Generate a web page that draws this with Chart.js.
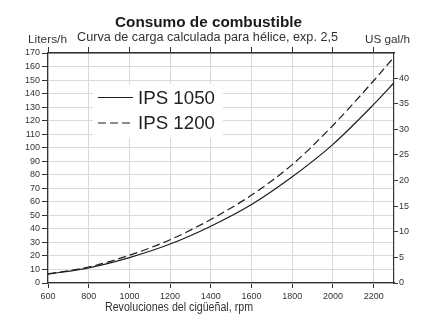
<!DOCTYPE html>
<html>
<head>
<meta charset="utf-8">
<script src="https://cdn.jsdelivr.net/npm/chart.js@4"></script>
<style>
html,body{margin:0;padding:0;background:#fff;}
#wrap{width:425px;height:316px;}
</style>
</head>
<body>
<div id="wrap"><canvas id="c" width="425" height="316"></canvas></div>
<script>
// ---- data ----
const rpm = [600, 800, 1000, 1200, 1400, 1600, 1800, 2000, 2200, 2300];
const ips1050 = [6.5, 11.2, 18.8, 28.8, 42, 58, 78.5, 102.5, 132, 148];
const ips1200 = [6.7, 11.8, 20.5, 32, 47, 65, 87.5, 116.5, 149.5, 167];
const xTicks = [600, 800, 1000, 1200, 1400, 1600, 1800, 2000, 2200];
const literTicks = [0,10,20,30,40,50,60,70,80,90,100,110,120,130,140,150,160,170];
const galTicks = [0, 5, 10, 15, 20, 25, 30, 35, 40];
const seriesNames = ['IPS 1050', 'IPS 1200'];
const titleText = 'Consumo de combustible';
const subtitleText = 'Curva de carga calculada para hélice, exp. 2,5';
const leftUnit = 'Liters/h';
const rightUnit = 'US gal/h';
const xTitle = 'Revoluciones del cigüeñal, rpm';
const LITERS_PER_GAL = 3.785;

const FONT = '"Liberation Sans", Arial, Helvetica, sans-serif';
const GRID = '#d9d9d9';
const AXIS = '#333';

function toPts(xs, ys){ return xs.map((x,i)=>({x:x, y:ys[i]})); }

function fitText(ctx, text, left, baseline, font, width){
  ctx.save();
  ctx.font = font;
  ctx.textAlign = 'left';
  ctx.textBaseline = 'alphabetic';
  const w = ctx.measureText(text).width;
  ctx.translate(left, baseline);
  ctx.scale(width / w, 1);
  ctx.fillText(text, 0, 0);
  ctx.restore();
}

const decor = {
  id: 'decor',
  beforeDatasetsDraw(chart){
    const ctx = chart.ctx;
    ctx.save();
    ctx.fillStyle = '#fff';
    ctx.fillRect(93, 84, 130, 54);
    const ds = chart.data.datasets;
    const rows = [97.5, 123];
    rows.forEach((y, i) => {
      ctx.strokeStyle = ds[i].borderColor;
      ctx.lineWidth = 1.2;
      ctx.setLineDash(ds[i].borderDash || []);
      ctx.beginPath();
      ctx.moveTo(98, y);
      ctx.lineTo(133, y);
      ctx.stroke();
      ctx.setLineDash([]);
      ctx.fillStyle = '#222';
      fitText(ctx, seriesNames[i], 138, y + 6, '18.5px ' + FONT, 77);
    });
    ctx.restore();
  },
  afterDraw(chart){
    const ctx = chart.ctx;
    ctx.save();
    ctx.fillStyle = '#1a1a1a';
    fitText(ctx, titleText, 115, 27, 'bold 15.5px ' + FONT, 187);
    ctx.fillStyle = '#333';
    fitText(ctx, subtitleText, 77, 41, '12.5px ' + FONT, 261);
    fitText(ctx, leftUnit, 28, 42.5, '10.5px ' + FONT, 39);
    fitText(ctx, rightUnit, 365, 42.5, '10.5px ' + FONT, 45);
    fitText(ctx, xTitle, 105, 311, '12px ' + FONT, 148);
    ctx.restore();
  }
};

const plainLabel = v => String(v);

new Chart(document.getElementById('c'), {
  type: 'line',
  data: {
    datasets: [
      {
        label: seriesNames[0],
        data: toPts(rpm, ips1050),
        borderColor: '#1e1e1e',
        borderWidth: 1.2,
        pointRadius: 0,
        fill: false,
        cubicInterpolationMode: 'monotone',
        yAxisID: 'y'
      },
      {
        label: seriesNames[1],
        data: toPts(rpm, ips1200),
        borderColor: '#1e1e1e',
        borderWidth: 1.2,
        borderDash: [8, 4],
        pointRadius: 0,
        fill: false,
        cubicInterpolationMode: 'monotone',
        yAxisID: 'y'
      }
    ]
  },
  options: {
    responsive: false,
    animation: false,
    events: [],
    layout: { padding: 0 },
    plugins: { legend: { display: false }, title: { display: false }, tooltip: { enabled: false } },
    scales: {
      x: {
        type: 'linear', position: 'bottom', min: 600, max: 2300,
        afterBuildTicks: s => { s.ticks = xTicks.map(v => ({ value: v })); },
        afterFit: s => { s.height = 33; },
        grid: { color: GRID, lineWidth: 1, tickColor: AXIS, tickLength: 5 },
        border: { color: AXIS, width: 1.2 },
        ticks: { font: { size: 9, family: FONT }, color: '#333', padding: 3, maxRotation: 0, autoSkip: false, callback: plainLabel }
      },
      x2: {
        type: 'linear', position: 'top', min: 600, max: 2300,
        afterBuildTicks: s => { s.ticks = xTicks.map(v => ({ value: v })); },
        afterFit: s => { s.height = 53; },
        grid: { drawOnChartArea: false, tickColor: AXIS, tickLength: 6 },
        border: { color: AXIS, width: 1.5 },
        ticks: { callback: () => '', padding: 0, autoSkip: false }
      },
      y: {
        type: 'linear', position: 'left', min: 0, max: 170,
        afterBuildTicks: s => { s.ticks = literTicks.map(v => ({ value: v })); },
        afterFit: s => { s.width = 48; },
        grid: { color: GRID, lineWidth: 1, tickColor: AXIS, tickLength: 6 },
        border: { color: AXIS, width: 1.2 },
        ticks: { font: { size: 9, family: FONT }, color: '#333', padding: 2, autoSkip: false, callback: plainLabel }
      },
      y2: {
        type: 'linear', position: 'right', min: 0, max: 170 / LITERS_PER_GAL,
        afterBuildTicks: s => { s.ticks = galTicks.map(v => ({ value: v })); },
        afterFit: s => { s.width = 31; },
        grid: { drawOnChartArea: false, tickColor: AXIS, tickLength: 4 },
        border: { color: AXIS, width: 1.2 },
        ticks: { font: { size: 9, family: FONT }, color: '#333', padding: 1, autoSkip: false, callback: plainLabel }
      }
    }
  },
  plugins: [decor]
});
</script>
</body>
</html>
